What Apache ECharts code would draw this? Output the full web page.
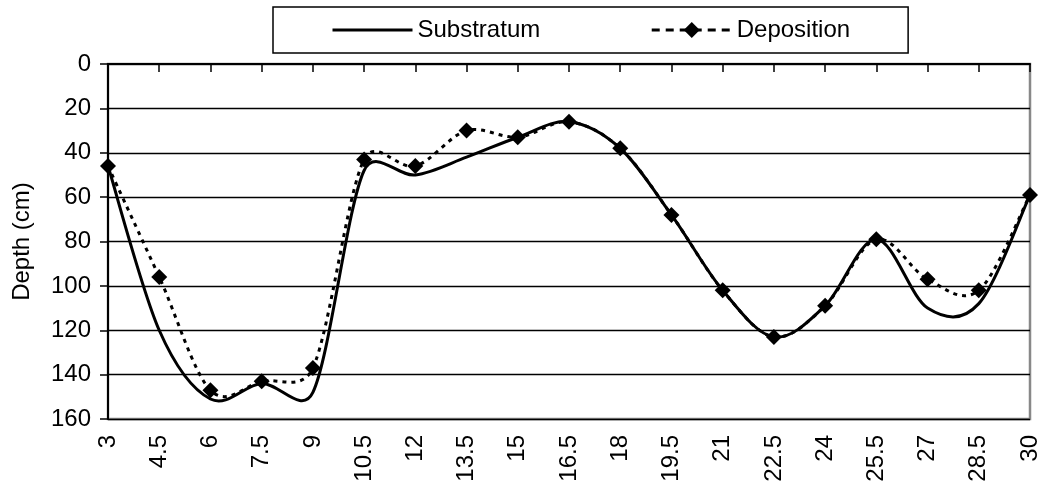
<!DOCTYPE html>
<html>
<head>
<meta charset="utf-8">
<script src="https://cdn.jsdelivr.net/npm/echarts@6/dist/echarts.min.js"></script>
<style>
html,body{margin:0;padding:0;background:#fff;}
#chart{width:1046px;height:493px;}
</style>
</head>
<body>
<div id="chart"></div>
<script>
const categories = ['3','4.5','6','7.5','9','10.5','12','13.5','15','16.5','18','19.5','21','22.5','24','25.5','27','28.5','30'];
const substratum = [46,120,151,144,148,48,50,42,33,26,38,68,102,123,109,79,110,108,59];
const deposition = [46,96,147,143,137,43,46,30,33,26,38,68,102,123,109,79,97,102,59];
const yTicks = [0,20,40,60,80,100,120,140,160];

const FONT = 'Liberation Sans, Arial, sans-serif';

// Smooth curve (spreadsheet-style Bezier smoothing) through points placed by the chart's own scales
function handle(a, b, segLen) {
  let hx = (b[0] - a[0]) / 6, hy = (b[1] - a[1]) / 6;
  const len = Math.sqrt(hx * hx + hy * hy);
  const lim = 0.5 * segLen;
  if (len > lim && len > 0) { hx *= lim / len; hy *= lim / len; }
  return [hx, hy];
}
function smoothRenderer(values, lineDash) {
  return function (params, api) {
    if (params.dataIndex !== 0) return null;
    const pts = values.map((v, i) => api.coord([i, v]));
    let d = 'M' + pts[0][0] + ' ' + pts[0][1];
    for (let i = 0; i < pts.length - 1; i++) {
      const p0 = pts[i - 1] || pts[i];
      const p1 = pts[i];
      const p2 = pts[i + 1];
      const p3 = pts[i + 2] || pts[i + 1];
      const seg = Math.hypot(p2[0] - p1[0], p2[1] - p1[1]);
      const h1 = handle(p0, p2, seg);
      const h2 = handle(p1, p3, seg);
      d += ' C' + (p1[0] + h1[0]) + ' ' + (p1[1] + h1[1]) + ' ' +
           (p2[0] - h2[0]) + ' ' + (p2[1] - h2[1]) + ' ' + p2[0] + ' ' + p2[1];
    }
    return {
      type: 'path',
      shape: { pathData: d },
      style: { fill: null, stroke: '#000', lineWidth: 3, lineDash: lineDash }
    };
  };
}

const chart = echarts.init(document.getElementById('chart'), null, {renderer:'canvas'});
chart.setOption({
  backgroundColor:'#fff',
  animation:false,
  legend:{
    left:273, top:7,
    padding:[11,58],
    borderColor:'#000', borderWidth:1.5,
    itemWidth:80, itemHeight:20, itemGap:110,
    textStyle:{fontFamily:FONT, fontSize:24, color:'#000'},
    data:[
      {name:'Substratum', itemStyle:{opacity:0}, lineStyle:{opacity:1,width:3,type:'solid',color:'#000'}},
      {name:'Deposition', lineStyle:{opacity:1,width:3,type:[8,6],color:'#000'}}
    ]
  },
  grid:{left:108,right:16,top:64,bottom:74,show:true,borderColor:'#888',borderWidth:2.5,backgroundColor:'#fff'},
  xAxis:{
    type:'category', data:categories, boundaryGap:false,
    axisLine:{lineStyle:{color:'#000',width:2}},
    axisTick:{show:true,length:8,lineStyle:{color:'#000',width:1.5},alignWithLabel:true},
    axisLabel:{rotate:90,fontFamily:FONT,fontSize:24,color:'#000',margin:16,interval:0},
    splitLine:{show:false}
  },
  yAxis:{
    type:'value', inverse:true, min:yTicks[0], max:yTicks[yTicks.length-1], interval:20,
    name:'Depth (cm)', nameLocation:'middle', nameRotate:90, nameGap:74,
    nameTextStyle:{fontFamily:FONT,fontSize:24,color:'#000'},
    axisLine:{show:true,lineStyle:{color:'#000',width:2}},
    axisTick:{show:true,length:8,lineStyle:{color:'#000',width:1.5}},
    axisLabel:{fontFamily:FONT,fontSize:24,color:'#000',margin:17},
    splitLine:{show:true,lineStyle:{color:['#888','#000','#000','#000','#000','#000','#000','#000','#000'],width:1.3}}
  },
  series:[
    {
      type:'custom', data:[[0, substratum[0]]], encode:{x:0,y:1},
      renderItem: smoothRenderer(substratum, null), z:3, silent:true
    },
    {
      type:'custom', data:[[0, deposition[0]]], encode:{x:0,y:1},
      renderItem: smoothRenderer(deposition, [4,5]), z:4, silent:true
    },
    {
      name:'Substratum', type:'line', data:substratum,
      symbol:'none', showSymbol:false,
      lineStyle:{color:'#000',width:3,opacity:0},
      itemStyle:{color:'#000'},
      z:2
    },
    {
      name:'Deposition', type:'line', data:deposition,
      symbol:'diamond', symbolSize:16, showSymbol:true,
      lineStyle:{color:'#000',width:3,opacity:0,type:[8,6]},
      itemStyle:{color:'#000'},
      z:5
    }
  ]
});
</script>
</body>
</html>
